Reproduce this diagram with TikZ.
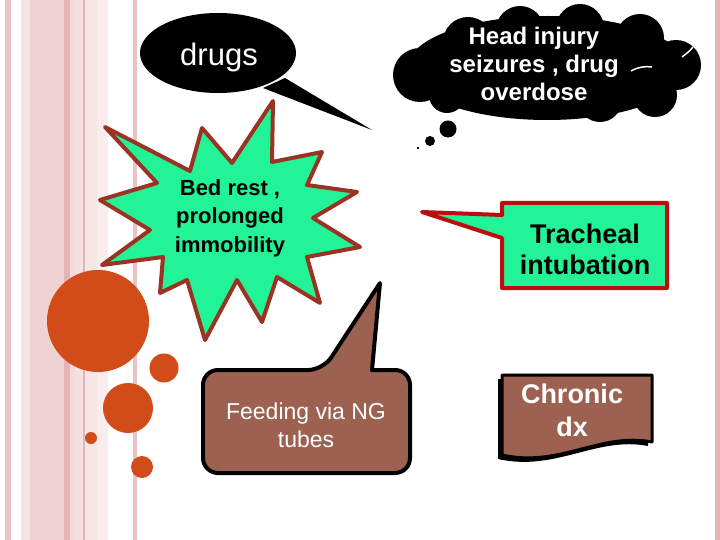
\documentclass[tikz,border=0pt]{standalone}
\usepackage{fontspec}
\setmainfont{Liberation Sans}
\definecolor{orng}{HTML}{D24C1A}
\definecolor{mint}{HTML}{22F396}
\definecolor{starb}{HTML}{9A3324}
\definecolor{trred}{HTML}{B80F0F}
\definecolor{brwn}{HTML}{9C6150}
\definecolor{sA}{HTML}{E8C4C4}
\definecolor{sB}{HTML}{F6E4E4}
\definecolor{sC}{HTML}{F0D2D2}
\definecolor{sD}{HTML}{E4B4B4}
\definecolor{sE}{HTML}{F2DADA}
\definecolor{sF}{HTML}{F4E0E0}
\definecolor{sG}{HTML}{E0B8B8}
\definecolor{sH}{HTML}{F6E6E6}
\definecolor{sI}{HTML}{F8ECEC}
\tikzset{
  dot/.style={fill=orng, draw=none},
  lbl/.style={align=center, inner sep=0pt},
}
\begin{document}
\begin{tikzpicture}[x=1pt,y=-1pt,line join=round]
\useasboundingbox (0,0) rectangle (720,540);
\fill[white] (0,0) rectangle (720,540);
% left stripes
\fill[sA] (5,0) rectangle (11,540);
\fill[sB] (21,0) rectangle (30,540);
\fill[sC] (30,0) rectangle (64,540);
\fill[sD] (64,0) rectangle (70,540);
\fill[sE] (70,0) rectangle (75,540);
\fill[sF] (75,0) rectangle (83,540);
\fill[sG] (83,0) rectangle (85,540);
\fill[sH] (85,0) rectangle (97,540);
\fill[sI] (97,0) rectangle (108,540);
\fill[sA] (133,0) rectangle (137,540);
% right stripe
\fill[sD] (715,0) rectangle (720,540);
% orange circles
\fill[dot] (98,321) circle[radius=51];
\fill[dot] (164,368) circle[radius=14.5];
\fill[dot] (128,408) circle[radius=25];
\fill[dot] (91,438) circle[radius=6];
\fill[dot] (142,467) circle[radius=11];
% drugs speech bubble
\fill[black] (218,53) ellipse[x radius=78, y radius=40];
\fill[black] (263,88) -- (372,130) -- (285,78) -- cycle;
\node[lbl, text=white, font=\fontsize{31}{36}\selectfont] (drugs) at (219,57) {drugs};
% cloud
\begin{scope}[fill=black]
\fill (547,68) ellipse[x radius=140, y radius=52];
\fill (468,42) circle[radius=25];
\fill (520,30) circle[radius=24];
\fill (580,28) circle[radius=24];
\fill (640,38) circle[radius=24];
\fill (676,65) circle[radius=25];
\fill (655,95) circle[radius=22];
\fill (600,100) circle[radius=22];
\fill (420,75) circle[radius=27];
\fill (447,95) circle[radius=18];
\fill (448,129) circle[radius=8.5];
\fill (430,141) circle[radius=5];
\fill (418,148) circle[radius=1.3];
\end{scope}
\draw[white, line width=1.5] (682,57) .. controls (686,54) and (690,51) .. (693,47);
\draw[white, line width=1.5] (631,71) .. controls (638,67) and (645,66) .. (652,67);
\node[lbl, text=white, font=\bfseries\fontsize{24}{28}\selectfont] (head) at (534,64) {Head injury\\seizures , drug\\overdose};
% starburst
\draw[fill=mint, draw=starb, line width=4] (105,127) -- (190,171) -- (202,128) -- (232,163) -- (273,101) -- (272,162) -- (322,152) -- (307,185) -- (357,192) -- (313,218) -- (360,247) -- (307,257) -- (320,303) -- (277,277) -- (262,322) -- (237,280) -- (205,340) -- (187,280) -- (160,293) -- (163,257) -- (102,265) -- (150,230) -- (100,200) -- (157,183) -- cycle;
\node[lbl, font=\bfseries\fontsize{22}{28.5}\selectfont] (bed) at (230,218) {Bed rest ,\\prolonged\\immobility};
% feeding callout
\draw[fill=brwn, draw=black, line width=4] (203,420) [rounded corners=15] |- (323,370) [sharp corners] -- (380,283) -- (372,370) [rounded corners=15] -| (410,420) |- (203,473) -- cycle;
\node[lbl, text=white, font=\fontsize{23}{28}\selectfont] (feed) at (306,425) {Feeding via NG\\tubes};
% tracheal callout
\draw[fill=mint, draw=trred, line width=4] (502,203) -- (667,203) -- (667,288) -- (502,288) -- (502,238) -- (422,212) -- (502,215) -- cycle;
\node[lbl, font=\bfseries\fontsize{27}{31}\selectfont] (trach) at (585,249) {Tracheal\\intubation};
% chronic dx document shape
\fill[black] (498,379) -- (648,379) -- (648,446) .. controls (596,436) and (556,472) .. (498,459) -- cycle;
\draw[fill=brwn, draw=black, line width=3] (502,375) -- (652,375) -- (652,442) .. controls (600,432) and (560,468) .. (502,455) -- cycle;
\node[lbl, text=white, font=\bfseries\fontsize{27}{33}\selectfont] (chron) at (572,410) {Chronic\\dx};
\end{tikzpicture}
\end{document}
